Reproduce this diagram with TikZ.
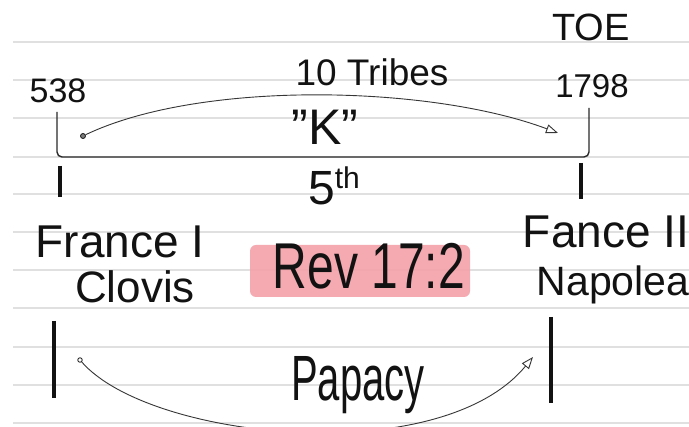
\documentclass[tikz,border=0pt]{standalone}
\usepackage{fontspec}
\setmainfont{Liberation Sans}
\usetikzlibrary{arrows.meta}
\definecolor{ruleline}{RGB}{224,224,224}
\definecolor{hlpink}{RGB}{244,163,170}
\definecolor{ink}{RGB}{18,18,18}
\begin{document}
\begin{tikzpicture}[x=1pt,y=-1pt,
  ruled/.style={ruleline, line width=1.2pt},
  hand/.style={text=ink, inner sep=0pt, anchor=center},
  thinarc/.style={draw=ink!85, line width=0.9pt, -{Triangle[open,length=12pt,width=9pt]}},
  tickmark/.style={draw=ink, line width=3.2pt},
  bracketline/.style={draw=ink!90, line width=1.4pt, rounded corners=5pt},
  dotmark/.style={circle, draw=ink, fill=ink!55, line width=0.8pt, inner sep=0pt, minimum size=5pt},
  highlight/.style={fill=hlpink, fill opacity=0.92, rounded corners=6pt, inner sep=0pt}
]
\clip (0,0) rectangle (689,427);
\fill[white] (0,0) rectangle (689,427);
% ruled paper
\foreach \yy in {42,80,118,157,194,232,270,308,347,385,423}
  \draw[ruled] (13,\yy) -- (689,\yy);

% highlight box
\node[highlight, minimum width=220pt, minimum height=52pt] (hl) at (360,271) {};

% top texts
\node[hand, font=\fontsize{38}{38}\selectfont] (toe) at (591,27) {TOE};
\node[hand, font=\fontsize{37}{37}\selectfont] (tribes) at (372,72) {10 Tribes};
\node[hand, font=\fontsize{34}{34}\selectfont] (n538) at (58,91) {538};
\node[hand, font=\fontsize{33}{33}\selectfont] (n1798) at (592,86) {1798};

% bracket
\coordinate (brTL) at (57,112);
\coordinate (brBL) at (57,157);
\coordinate (brBR) at (589,157);
\coordinate (brTR) at (589,108);
\draw[bracketline] (brTL) -- (brBL) -- (brBR) -- (brTR);

% K arc
\node[dotmark] (kdot) at (83,136) {};
\coordinate (ktip) at (558,133);
\coordinate (kc1) at (200,80);
\coordinate (kc2) at (430,85);
\draw[thinarc] (kdot) .. controls (kc1) and (kc2) .. (ktip);
\node[hand, font=\fontsize{50}{50}\selectfont] (kq) at (325,127) {"K"};

% ticks
\coordinate (tlA) at (60,166);
\coordinate (tlB) at (60,197);
\coordinate (trA) at (581,163);
\coordinate (trB) at (581,199);
\draw[tickmark] (tlA) -- (tlB);
\draw[tickmark] (trA) -- (trB);

\node[hand, font=\fontsize{48}{48}\selectfont] (fifth) at (334,186)
  {5\raisebox{16pt}{\fontsize{30}{30}\selectfont th}};

% middle texts
\node[hand, font=\fontsize{46}{46}\selectfont] (franceI) at (120,242) {France I};
\node[hand, font=\fontsize{44}{44}\selectfont] (clovis) at (135,287) {Clovis};
\node[hand, font=\fontsize{46}{46}\selectfont] (fanceII) at (606,232) {Fance II};
\node[hand, font=\fontsize{41}{41}\selectfont] (napolea) at (613,285) {Napolea};
\node[hand, font=\fontsize{48}{48}\selectfont] (rev) at (369,266) {\scalebox{1}[1.35]{Rev 17:2}};

% bottom bars
\coordinate (blA) at (54,321);
\coordinate (blB) at (54,398);
\coordinate (brA) at (551,317);
\coordinate (brB) at (551,403);
\draw[tickmark] (blA) -- (blB);
\draw[tickmark] (brA) -- (brB);

% Papacy arc
\node[dotmark, fill=white, minimum size=4.5pt] (pdot) at (80,360) {};
\coordinate (ptip) at (533,357);
\coordinate (pc1) at (150,440);
\coordinate (pc2) at (440,470);
\draw[thinarc] (pdot) .. controls (pc1) and (pc2) .. (ptip);
\node[hand, font=\fontsize{40}{40}\selectfont] (papacy) at (358,385) {\scalebox{1}[1.6]{Papacy}};
\end{tikzpicture}
\end{document}
